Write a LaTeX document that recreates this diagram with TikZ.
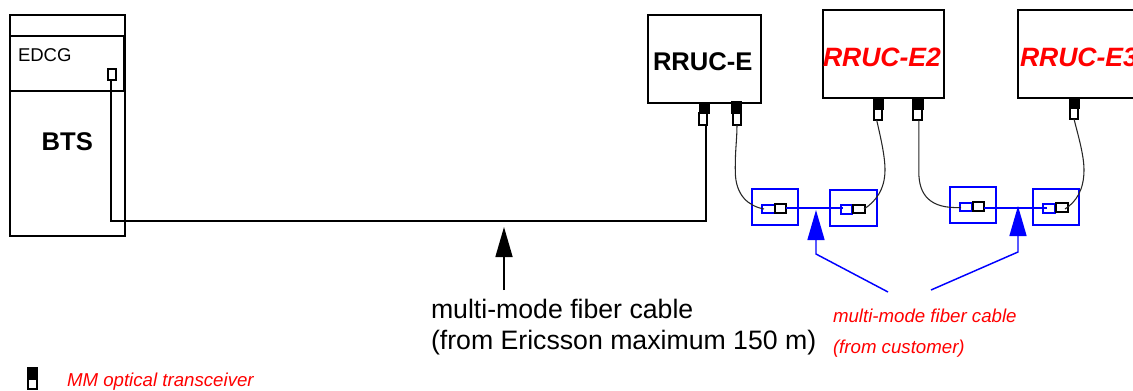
\documentclass[tikz,border=0pt]{standalone}
\usepackage{fontspec}
\setmainfont{Liberation Sans}
\usetikzlibrary{arrows.meta}
\definecolor{myblue}{RGB}{0,0,255}
\definecolor{myred}{RGB}{255,0,0}
\newcommand{\rbox}[6]{%
  \pgfmathsetmacro{\rcx}{(#3+#5)/2}\pgfmathsetmacro{\rcy}{(#4+#6)/2}%
  \pgfmathsetmacro{\rw}{abs(#5-#3)*0.75}\pgfmathsetmacro{\rh}{abs(#6-#4)*0.75}%
  \node[#1,minimum width=\rw pt,minimum height=\rh pt] (#2) at (\rcx,\rcy) {};}
% name, black left, black right, white left, white right, top, middle, bottom
\newcommand{\plug}[8]{%
  \rbox{plugtop}{#1t}{#2}{#6}{#3}{#7}%
  \rbox{blk}{#1}{#4}{#7}{#5}{#8}}
\tikzset{
  blk/.style={draw=black,fill=white,line width=1.2pt,inner sep=0pt,outer sep=0pt},
  frame/.style={draw=black,line width=1.2pt,inner sep=0pt,outer sep=0pt},
  plugtop/.style={draw=black,fill=black,line width=0.5pt,inner sep=0pt,outer sep=0pt},
  blu/.style={draw=myblue,line width=1.25pt,inner sep=0pt,outer sep=0pt},
  blusmall/.style={draw=myblue,fill=white,line width=1.25pt,inner sep=0pt,outer sep=0pt},
  cable/.style={draw=black,line width=1.2pt},
  patch/.style={draw=black!85,line width=0.8pt},
  bluline/.style={draw=myblue,line width=1.1pt},
  bigtip/.style={-{Triangle[length=22.5pt,width=12.75pt,#1]}},
  txt/.style={anchor=base west,inner sep=0pt,outer sep=0pt},
  redtxt/.style={txt,text=myred,font=\fontsize{14}{16}\selectfont\itshape},
  head/.style={txt,font=\fontsize{19.2}{22}\selectfont\bfseries},
  redhead/.style={txt,text=myred,font=\fontsize{19.9}{22}\selectfont\bfseries\itshape},
  big/.style={txt,font=\fontsize{20}{24}\selectfont},
}
\begin{document}
\begin{tikzpicture}[x=0.75pt,y=-0.75pt]
\useasboundingbox (0,0) rectangle (1133,390);
% BTS
\rbox{frame}{bts}{10}{15}{125}{236}
\rbox{frame}{edcg}{10}{36}{124}{91}
\rbox{blk}{edcgport}{108}{69}{116}{80}
\node[txt,font=\fontsize{13.9}{16}\selectfont] (edcgt) at (18,61.7) {EDCG};
\node[head] (btst) at (41.7,150) {BTS};
% RRUs
\rbox{blk}{rruce}{648}{15}{761}{103}
\rbox{blk}{rruce2}{823}{10}{944}{98}
\rbox{blk}{rruce3}{1018}{10}{1145}{98}
\node[head] (t1) at (653,70) {RRUC-E};
\node[redhead] (t2) at (823,66) {RRUC-E2};
\node[redhead] (t3) at (1020,66) {RRUC-E3};
% transceivers
\plug{pa}{699}{709}{699}{707}{102}{113}{125}
\plug{pb}{731}{741}{733}{741}{101}{113}{125}
\plug{pc}{873}{883}{874}{882}{98}{109}{120}
\plug{pd}{912}{923}{913}{922}{98}{109}{120}
\plug{pe}{1069}{1079}{1070}{1078}{98}{108}{119}
% legend
\plug{pl}{27}{37}{28}{37}{367}{379}{389}
\node[redtxt] (mmt) at (67,386.7) {MM optical transceiver};
% main cable
\coordinate (corner) at (111,221);
\draw[cable] ([xshift=-0.75pt]edcgport.south) -- (corner) -| ([xshift=2.25pt]pa.south);
% blue boxes
\rbox{blu}{b1}{752}{189}{798}{225}
\rbox{blu}{b2}{830}{190}{877}{226}
\rbox{blu}{b3}{950}{187}{996}{223}
\rbox{blu}{b4}{1033}{189}{1079}{225}
% couplers
\rbox{blusmall}{s1}{762}{205}{775}{213}
\rbox{blk}{k1}{775}{204}{786}{213}
\rbox{blusmall}{s2}{841}{205}{852}{214}
\rbox{blk}{k2}{853}{205}{865}{213}
\rbox{blusmall}{s3}{960}{203}{972}{211}
\rbox{blk}{k3}{973}{202}{984}{211}
\rbox{blusmall}{s4}{1043}{204}{1055}{213}
\rbox{blk}{k4}{1056}{203}{1068}{212}
\coordinate (e2) at (843,208);
\coordinate (e4) at (1047,208);
\draw[bluline] (k1.east |- e2) -- (e2);
\draw[bluline] (k3.east |- e4) -- (e4);
% patch cords
\coordinate (c1e) at (764,209);
\coordinate (c2e) at (864,209);
\coordinate (c3e) at (961,207.5);
\coordinate (c4e) at (1065,209);
\draw[patch] (pb.south) .. controls (737,140) and (735,150) .. (735.3,172) .. controls (735.6,195) and (748,206) .. (c1e);
\draw[patch] ([xshift=-1pt]pc.south) .. controls (880,135) and (885,155) .. (885,170) .. controls (885,190) and (875,202) .. (c2e);
\draw[patch] ([xshift=1pt]pd.south) -- ++(0,52) .. controls (918.8,195) and (930,209) .. (c3e);
\draw[patch] (pe.south) .. controls (1078,135) and (1084,155) .. (1084,170) .. controls (1084,190) and (1076,202) .. (c4e);
% pointers
\coordinate (bt) at (504,227);
\coordinate (bb) at (504,290);
\draw[cable,bigtip] (bb) -- (bt);
\coordinate (a1) at (816,210);
\coordinate (a1k) at (816,254);
\coordinate (a1s) at (888,292);
\coordinate (a2) at (1018,206);
\coordinate (a2k) at (1018,252);
\coordinate (a2s) at (931,290);
\draw[bluline,bigtip,myblue] (a1s) -- (a1k) -- (a1);
\draw[bluline,bigtip,myblue] (a2s) -- (a2k) -- (a2);
% labels
\node[big] (l1) at (431,318) {multi-mode fiber cable};
\node[big] (l2) at (431,349) {(from Ericsson maximum 150 m)};
\node[redtxt] (l3) at (833,322) {multi-mode fiber cable};
\node[redtxt] (l4) at (833,353) {(from customer)};
\end{tikzpicture}
\end{document}
